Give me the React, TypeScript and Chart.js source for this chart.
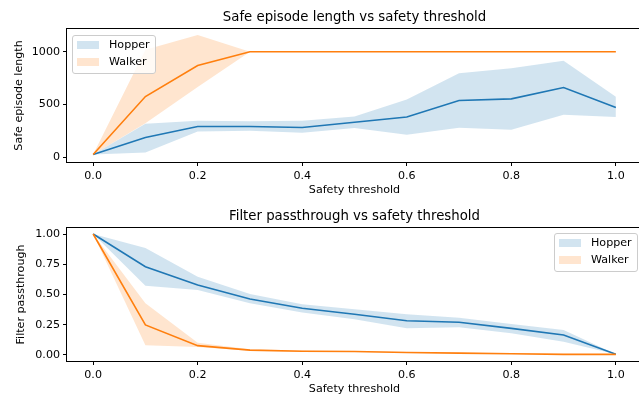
import React, { useEffect, useRef } from "react";
import { Chart, registerables } from "chart.js";

Chart.register(...registerables);

// ---------------- data ----------------
const thresholds = [0, 0.1, 0.2, 0.3, 0.4, 0.5, 0.6, 0.7, 0.8, 0.9, 1.0];
const xTicks = [0, 0.2, 0.4, 0.6, 0.8, 1.0];
const lengthTicks = [0, 500, 1000];
const passTicks = [0, 0.25, 0.5, 0.75, 1.0];
const seriesNames = ["Hopper", "Walker"];

// Safe episode length
const hopperLenMean = [25, 186, 290, 290, 281, 330, 380, 537, 553, 660, 470];
const hopperLenLow = [25, 44, 243, 250, 230, 275, 212, 278, 259, 401, 380];
const hopperLenHigh = [25, 316, 344, 340, 344, 385, 547, 797, 844, 914, 572];
const walkerLenMean = [25, 575, 869, 1000, 1000, 1000, 1000, 1000, 1000, 1000, 1000];
const walkerLenLow = [25, 320, 665, 1000, 1000, 1000, 1000, 1000, 1000, 1000, 1000];
const walkerLenHigh = [25, 1020, 1160, 1000, 1000, 1000, 1000, 1000, 1000, 1000, 1000];

// Filter passthrough
const hopperPassMean = [1.0, 0.73, 0.578, 0.463, 0.386, 0.336, 0.283, 0.27, 0.22, 0.165, 0.005];
const hopperPassLow = [1.0, 0.573, 0.537, 0.427, 0.35, 0.295, 0.22, 0.229, 0.179, 0.11, 0.005];
const hopperPassHigh = [1.0, 0.885, 0.647, 0.504, 0.42, 0.378, 0.336, 0.308, 0.256, 0.207, 0.005];
const walkerPassMean = [1.0, 0.248, 0.077, 0.04, 0.03, 0.028, 0.02, 0.015, 0.01, 0.005, 0.005];
const walkerPassLow = [1.0, 0.08, 0.066, 0.035, 0.026, 0.024, 0.017, 0.012, 0.008, 0.003, 0.003];
const walkerPassHigh = [1.0, 0.427, 0.1, 0.048, 0.036, 0.033, 0.024, 0.019, 0.014, 0.008, 0.008];

// ---------------- styles ----------------
const FONT = "'DejaVu Sans', sans-serif";
const SMALL = 11.1;
const LARGE = 13.3;
const BLUE = "#1f77b4";
const ORANGE = "#ff7f0e";
const BLUE_FILL = "rgba(31,119,180,0.2)";
const ORANGE_FILL = "rgba(255,127,14,0.2)";

const pts = (ys: number[]) => thresholds.map((x, i) => ({ x, y: ys[i] }));

const mplLegend = {
  id: "mplLegend",
  afterDraw(chart: any, _args: any, opts: any) {
    if (!opts || !opts.items) return;
    const { ctx, chartArea } = chart;
    ctx.save();
    ctx.font = `${SMALL}px ${FONT}`;
    const textW = Math.max(...opts.items.map((it: any) => ctx.measureText(it.label).width));
    const w = Math.round(5 + 22 + 10 + textW + 5);
    const h = 38;
    const left =
      opts.loc === "upper right" ? Math.round(chartArea.right - 5 - w) : Math.round(chartArea.left + 5);
    const top = Math.round(chartArea.top + (opts.loc === "upper right" ? 5 : 6));
    ctx.beginPath();
    (ctx as any).roundRect(left + 0.5, top + 0.5, w, h, 2.5);
    ctx.fillStyle = "rgba(255,255,255,0.8)";
    ctx.fill();
    ctx.strokeStyle = "#cccccc";
    ctx.lineWidth = 1;
    ctx.stroke();
    opts.items.forEach((it: any, i: number) => {
      const cy = top + 10 + i * 17;
      ctx.fillStyle = it.color;
      ctx.fillRect(left + 5, cy - 4, 22, 8);
      ctx.fillStyle = "#000";
      ctx.textBaseline = "middle";
      ctx.textAlign = "left";
      ctx.fillText(it.label, left + 37, cy);
    });
    ctx.restore();
  },
};

const spines = {
  id: "spines",
  afterDatasetsDraw(chart: any) {
    const { ctx, chartArea } = chart;
    ctx.save();
    ctx.strokeStyle = "#000";
    ctx.lineWidth = 1;
    const l = Math.round(chartArea.left) - 0.5;
    const t = Math.round(chartArea.top) - 0.5;
    const r = Math.round(chartArea.right) + 0.5;
    const b = Math.round(chartArea.bottom) + 0.5;
    ctx.strokeRect(l, t, r - l, b - t);
    ctx.restore();
  },
};

interface PanelSpec {
  title: string;
  yTitle: string;
  hop: [number[], number[], number[]];
  walk: [number[], number[], number[]];
  yMin: number;
  yMax: number;
  yTicks: number[];
  yFmt: (v: number) => string;
  legendLoc: string;
  titlePad: { top: number; bottom: number };
  xAxisHeight: number;
  xTitlePadBottom: number;
  yTitlePadTop: number;
}

function makeConfig(p: PanelSpec): any {
  const band = (low: number[], high: number[], color: string, order: number, label: string) => [
    { label: label + " low", data: pts(low), borderWidth: 0, borderColor: "transparent", pointRadius: 0, fill: false, order },
    { label, data: pts(high), borderWidth: 0, borderColor: "transparent", pointRadius: 0, fill: "-1", backgroundColor: color, order },
  ];
  const tickFont = { family: FONT, size: SMALL };
  return {
    type: "line",
    data: {
      datasets: [
        ...band(p.hop[1], p.hop[2], BLUE_FILL, 4, seriesNames[0]),
        ...band(p.walk[1], p.walk[2], ORANGE_FILL, 3, seriesNames[1]),
        { label: seriesNames[0] + " mean", data: pts(p.hop[0]), borderColor: BLUE, borderWidth: 1.6, pointRadius: 0, fill: false, order: 2, tension: 0 },
        { label: seriesNames[1] + " mean", data: pts(p.walk[0]), borderColor: ORANGE, borderWidth: 1.6, pointRadius: 0, fill: false, order: 1, tension: 0 },
      ],
    },
    options: {
      responsive: false,
      animation: false,
      devicePixelRatio: 1,
      layout: { padding: { left: 0, right: 8, top: 0, bottom: 0 } },
      plugins: {
        legend: { display: false },
        tooltip: { enabled: false },
        title: {
          display: true,
          text: p.title,
          fullSize: false,
          color: "#000",
          font: { family: FONT, size: LARGE, weight: "normal" },
          padding: p.titlePad,
        },
        mplLegend: {
          loc: p.legendLoc,
          items: [
            { label: seriesNames[0], color: BLUE_FILL },
            { label: seriesNames[1], color: ORANGE_FILL },
          ],
        },
      },
      scales: {
        x: {
          type: "linear",
          min: -0.05,
          max: 1.05,
          afterBuildTicks: (s: any) => {
            s.ticks = xTicks.map((v) => ({ value: v }));
          },
          afterFit: (s: any) => {
            s.height = p.xAxisHeight;
          },
          ticks: { callback: (v: number) => v.toFixed(1), font: tickFont, color: "#000", padding: 3, maxRotation: 0, autoSkip: false },
          grid: { display: true, drawOnChartArea: false, drawTicks: true, tickLength: 4, color: "#000" },
          border: { display: false },
          title: { display: true, text: "Safety threshold", color: "#000", font: tickFont, padding: { top: 0, bottom: p.xTitlePadBottom } },
        },
        y: {
          type: "linear",
          min: p.yMin,
          max: p.yMax,
          afterBuildTicks: (s: any) => {
            s.ticks = p.yTicks.map((v) => ({ value: v }));
          },
          afterFit: (s: any) => {
            s.width = 67;
          },
          ticks: { callback: (v: number) => p.yFmt(v), font: tickFont, color: "#000", padding: 3, autoSkip: false },
          grid: { display: true, drawOnChartArea: false, drawTicks: true, tickLength: 4, color: "#000" },
          border: { display: false },
          title: { display: true, text: p.yTitle, color: "#000", font: tickFont, padding: { top: p.yTitlePadTop, bottom: 0 } },
        },
      },
    },
    plugins: [spines, mplLegend],
  };
}

const topSpec: PanelSpec = {
  title: "Safe episode length vs safety threshold",
  yTitle: "Safe episode length",
  hop: [hopperLenMean, hopperLenLow, hopperLenHigh],
  walk: [walkerLenMean, walkerLenLow, walkerLenHigh],
  yMin: -47,
  yMax: 1217,
  yTicks: lengthTicks,
  yFmt: (v) => String(v),
  legendLoc: "upper left",
  titlePad: { top: 9.2, bottom: 3.8 },
  xAxisHeight: 35,
  xTitlePadBottom: 0,
  yTitlePadTop: 12.3,
};

const bottomSpec: PanelSpec = {
  title: "Filter passthrough vs safety threshold",
  yTitle: "Filter passthrough",
  hop: [hopperPassMean, hopperPassLow, hopperPassHigh],
  walk: [walkerPassMean, walkerPassLow, walkerPassHigh],
  yMin: -0.05,
  yMax: 1.05,
  yTicks: passTicks,
  yFmt: (v) => v.toFixed(2),
  legendLoc: "upper right",
  titlePad: { top: 11.7, bottom: 3.3 },
  xAxisHeight: 46,
  xTitlePadBottom: 10.8,
  yTitlePadTop: 14.8,
};

export default function App() {
  const topRef = useRef<HTMLCanvasElement>(null);
  const botRef = useRef<HTMLCanvasElement>(null);

  useEffect(() => {
    const c1 = new Chart(topRef.current as HTMLCanvasElement, makeConfig(topSpec));
    const c2 = new Chart(botRef.current as HTMLCanvasElement, makeConfig(bottomSpec));
    return () => {
      c1.destroy();
      c2.destroy();
    };
  }, []);

  return (
    <div style={{ position: "fixed", left: 0, top: 0, width: 639, height: 394, overflow: "hidden", background: "#fff" }}>
      <div style={{ position: "absolute", left: 0, top: 0 }}>
        <canvas ref={topRef} width={650} height={197} style={{ display: "block", width: 650, height: 197 }} />
      </div>
      <div style={{ position: "absolute", left: 0, top: 197 }}>
        <canvas ref={botRef} width={650} height={210} style={{ display: "block", width: 650, height: 210 }} />
      </div>
    </div>
  );
}
